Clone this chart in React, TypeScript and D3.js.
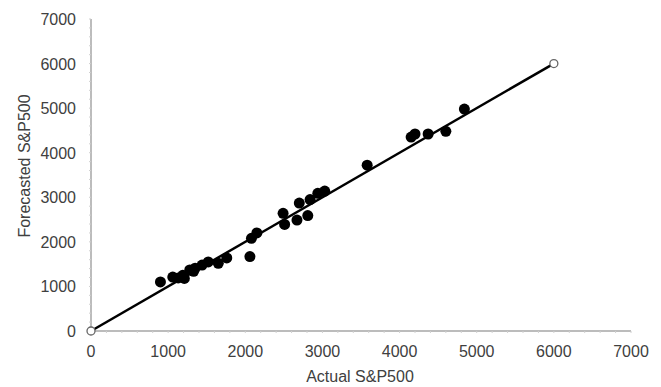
import React from 'react'
import * as d3 from 'd3'

// actual vs forecasted S&P500 values
const actual = [900, 1060, 1130, 1190, 1210, 1280, 1330, 1350, 1440, 1520, 1650, 1760, 2060, 2080, 2150, 2490, 2510, 2670, 2700, 2810, 2840, 2940, 3030, 3580, 4150, 4200, 4370, 4600, 4840]
const forecast = [1100, 1210, 1190, 1250, 1180, 1370, 1340, 1410, 1480, 1550, 1520, 1640, 1670, 2080, 2200, 2640, 2390, 2490, 2870, 2590, 2950, 3090, 3140, 3720, 4350, 4420, 4420, 4480, 4980]
const fitLine = [0, 6000]
const ticks = [0, 1000, 2000, 3000, 4000, 5000, 6000, 7000]
const minorTicks = d3.range(0, 7001, 200)

const W = 661
const H = 387
const font = 'Liberation Sans, Arial, sans-serif'

const App: React.FC = () => {
  const x = d3.scaleLinear().domain([0, 7000]).range([91, 631])
  const y = d3.scaleLinear().domain([0, 7000]).range([331, 19])
  const axisColor = '#a6a6a6'
  const textColor = '#404040'

  return (
    <div style={{ position: 'absolute', left: 0, top: 0 }}>
      <svg width={W} height={H} style={{ display: 'block', background: '#fff' }}>
        {/* axes */}
        <line x1={x(0)} x2={x(0)} y1={y(0)} y2={y(7000)} stroke={axisColor} strokeWidth={1.5} />
        <line x1={x(0)} x2={x(7000)} y1={y(0)} y2={y(0)} stroke={axisColor} strokeWidth={1.5} />
        {minorTicks.map(t => (
          <g key={'m' + t}>
            <line x1={x(t)} x2={x(t)} y1={y(0)} y2={y(0) + 2} stroke="#d0d0d0" strokeWidth={1} />
            <line x1={x(0) - 2} x2={x(0)} y1={y(t)} y2={y(t)} stroke="#d0d0d0" strokeWidth={1} />
          </g>
        ))}
        {ticks.map(t => (
          <text key={'x' + t} x={x(t)} y={y(0) + 26} textAnchor="middle" fontFamily={font} fontSize={16} fill={textColor}>{t}</text>
        ))}
        {ticks.map(t => (
          <text key={'y' + t} x={x(0) - 15} y={y(t) + 6} textAnchor="end" fontFamily={font} fontSize={16} fill={textColor}>{t}</text>
        ))}
        <text x={360} y={382} textAnchor="middle" fontFamily={font} fontSize={16} fill={textColor}>Actual S&amp;P500</text>
        <text transform="translate(30,166) rotate(-90)" textAnchor="middle" fontFamily={font} fontSize={16} fill={textColor}>Forecasted S&amp;P500</text>

        {/* 45 degree line */}
        <line x1={x(fitLine[0])} y1={y(fitLine[0])} x2={x(fitLine[1])} y2={y(fitLine[1])} stroke="#000" strokeWidth={2.5} />
        {fitLine.map(v => (
          <circle key={'e' + v} cx={x(v)} cy={y(v)} r={4} fill="#fff" stroke="#666" strokeWidth={1.3} />
        ))}

        {/* points */}
        {actual.map((a, i) => (
          <circle key={'p' + i} cx={x(a)} cy={y(forecast[i])} r={5.5} fill="#000" />
        ))}
      </svg>
    </div>
  )
}

export default App
